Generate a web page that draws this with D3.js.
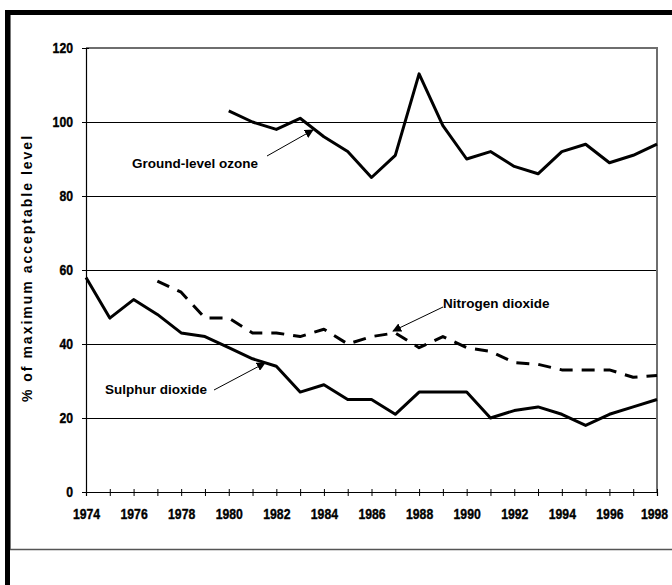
<!DOCTYPE html>
<html>
<head>
<meta charset="utf-8">
<script src="https://cdn.jsdelivr.net/npm/d3@7"></script>
<style>
  body { margin: 0; background: #fff; }
  svg { display: block; }
  .tick text { font-family: "Liberation Sans", Arial, sans-serif; font-weight: bold; font-size: 15px; fill: #000; stroke: #000; stroke-width: 0.4px; }
</style>
</head>
<body>
<svg id="chart" width="672" height="585"></svg>
<script>
// data
const ozoneYears = d3.range(1980, 1999)
const ozone = [103, 100, 98, 101, 96, 92, 85, 91, 113, 99, 90, 92, 88, 86, 92, 94, 89, 91, 94]

const sulphurYears = d3.range(1974, 1999)
const sulphur = [58, 47, 52, 48, 43, 42, 39, 36, 34, 27, 29, 25, 25, 21, 27, 27, 27, 20, 22, 23, 21, 18, 21, 23, 25]

const nitrogenYears = d3.range(1977, 1999)
const nitrogen = [57, 54, 47, 47, 43, 43, 42, 44, 40, 42, 43, 39, 42, 39, 38, 35, 34.5, 33, 33, 33, 31, 31.5]

const yTicks = [0, 20, 40, 60, 80, 100, 120]
const gridVals = [20, 40, 60, 80, 100]
const xLabelYears = d3.range(1974, 1999, 2)

const svg = d3.select("#chart")

// outer frame like the original document box
svg.append("line").attr("x1", 10.5).attr("x2", 10.5).attr("y1", 12).attr("y2", 549)
    .attr("stroke", "#777").attr("stroke-width", 1)
svg.append("line").attr("x1", 10).attr("x2", 672).attr("y1", 549.5).attr("y2", 549.5)
    .attr("stroke", "#555").attr("stroke-width", 1.5)
svg.append("rect").attr("x", 5).attr("y", 10).attr("width", 667).attr("height", 5).attr("fill", "#000")
svg.append("rect").attr("x", 5).attr("y", 10).attr("width", 5).attr("height", 575).attr("fill", "#000")

const plot = { left: 86, right: 657, top: 48, bottom: 492 }

const x = d3.scaleLinear().domain([1974, 1998]).range([plot.left, plot.right])
const y = d3.scaleLinear().domain([0, 120]).range([plot.bottom, plot.top])

// gridlines
svg.append("g").selectAll("line")
    .data(gridVals)
    .enter()
    .append("line")
        .attr("x1", plot.left).attr("x2", plot.right)
        .attr("y1", d => Math.round(y(d)) + 0.5)
        .attr("y2", d => Math.round(y(d)) + 0.5)
        .attr("stroke", "#000")
        .attr("stroke-width", 1.2)

// plot frame (top & right, grey)
svg.append("path")
    .attr("d", `M${plot.left},${plot.top} H${plot.right} V${plot.bottom}`)
    .attr("fill", "none")
    .attr("stroke", "#6e6e6e")
    .attr("stroke-width", 2)

// narrow-looking tick labels: squeeze each digit to ~6.8px
const squeeze = sel => sel.selectAll(".tick text")
    .filter(function() { return this.textContent.length > 0 })
    .attr("textLength", function() { return this.textContent.length * 6.8 })
    .attr("lengthAdjust", "spacingAndGlyphs")

// axes
const yAxis = svg.append("g")
    .attr("transform", `translate(${plot.left},0)`)
    .call(d3.axisLeft(y).tickValues(yTicks).tickSize(4).tickPadding(9))
yAxis.select(".domain").attr("stroke", "#000").attr("stroke-width", 1.2)
yAxis.selectAll(".tick line").attr("x1", 3).attr("x2", -4).attr("stroke", "#000")
squeeze(yAxis)

const xAxis = svg.append("g")
    .attr("transform", `translate(0,${plot.bottom})`)
    .call(d3.axisBottom(x).tickValues(sulphurYears).tickSize(4).tickPadding(12)
        .tickFormat(d => xLabelYears.includes(d) ? d : ""))
xAxis.select(".domain").attr("stroke", "#000").attr("stroke-width", 1.2)
xAxis.selectAll(".tick line").attr("y1", -3).attr("y2", 4).attr("stroke", "#000")
squeeze(xAxis)
// keep the last year label inside the page
xAxis.selectAll(".tick text").filter(d => d === 1998).attr("dx", -3)

// axis title
svg.append("text")
    .attr("transform", `translate(32, 268) rotate(-90)`)
    .attr("text-anchor", "middle")
    .attr("font-family", "Liberation Sans, Arial, sans-serif")
    .attr("font-weight", "bold")
    .attr("font-size", "14px")
    .attr("letter-spacing", "2px")
    .text("% of maximum acceptable level")

// series lines
const line = d3.line().x(d => x(d[0])).y(d => y(d[1]))

const drawSeries = (years, vals, dashed) => {
    svg.append("path")
        .datum(years.map((yr, i) => [yr, vals[i]]))
        .attr("d", line)
        .attr("fill", "none")
        .attr("stroke", "#000")
        .attr("stroke-width", 3)
        .attr("stroke-linejoin", "round")
        .attr("stroke-dasharray", dashed ? "13,9" : null)
}
drawSeries(ozoneYears, ozone, false)
drawSeries(sulphurYears, sulphur, false)
drawSeries(nitrogenYears, nitrogen, true)

// annotations with arrows
svg.append("defs").append("marker")
    .attr("id", "arrow")
    .attr("viewBox", "0 0 10 10")
    .attr("refX", 9).attr("refY", 5)
    .attr("markerWidth", 9).attr("markerHeight", 9)
    .attr("markerUnits", "userSpaceOnUse")
    .attr("orient", "auto")
    .append("path").attr("d", "M0,0 L10,5 L0,10 Z").attr("fill", "#000")

const notes = [
    { label: "Ground-level ozone", tx: 132, ty: 168, from: [267, 156], to: [313, 130] },
    { label: "Sulphur dioxide", tx: 105, ty: 394, from: [214, 390], to: [265, 363] },
    { label: "Nitrogen dioxide", tx: 443, ty: 308, from: [443, 307], to: [393, 331] }
]

notes.forEach(n => {
    svg.append("line")
        .attr("x1", n.from[0]).attr("y1", n.from[1])
        .attr("x2", n.to[0]).attr("y2", n.to[1])
        .attr("stroke", "#000").attr("stroke-width", 1)
        .attr("marker-end", "url(#arrow)")
    svg.append("text")
        .attr("x", n.tx).attr("y", n.ty)
        .attr("font-family", "Liberation Sans, Arial, sans-serif")
        .attr("font-weight", "bold")
        .attr("font-size", "13.5px")
        .text(n.label)
})
</script>
</body>
</html>
